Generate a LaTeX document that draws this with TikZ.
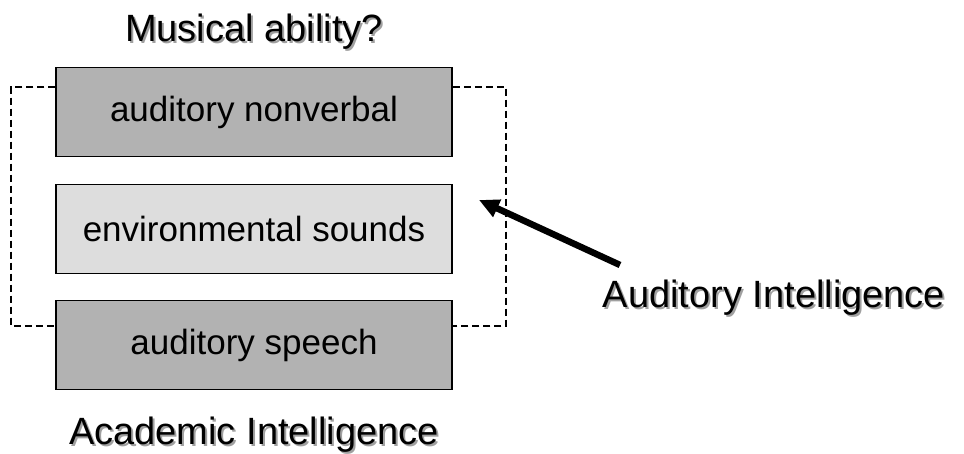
\documentclass[tikz,border=0pt]{standalone}
\usepackage{fontspec}
\setmainfont{Liberation Sans}
\usetikzlibrary{arrows.meta,calc}
\definecolor{boxdark}{HTML}{B2B2B2}
\definecolor{boxlight}{HTML}{DDDDDD}
\definecolor{shadowgray}{HTML}{A0A0A0}
\newcommand\shadowtext[1]{\makebox[0pt][l]{\hspace{2pt}\raisebox{-2pt}{\textcolor{shadowgray}{#1}}}#1}
\begin{document}
\begin{tikzpicture}[x=1pt,y=-1pt,
  box/.style={draw=black,line width=1.5pt,minimum width=396pt,minimum height=89pt,inner sep=0pt,
    font=\fontsize{35}{40}\selectfont},
  dark/.style={box,fill=boxdark},
  light/.style={box,fill=boxlight},
  label/.style={inner sep=0pt,font=\fontsize{38}{44}\selectfont,anchor=base},
  dashline/.style={line width=2.6pt,dash pattern=on 7pt off 4pt},
  bigarrow/.style={line width=6.5pt,-{Triangle[length=20pt,width=18pt]}}]
\useasboundingbox (0,0) rectangle (964,454);
% dashed bracket coordinates
\coordinate (dtop) at (0,87);
\coordinate (dbot) at (0,326);
\coordinate (dl) at (11,0);
\coordinate (dr) at (506,0);
% boxes
\node[dark]  (nv)  at (254,112) {auditory nonverbal};
\node[light] (env) at (254,229) {environmental sounds};
\node[dark]  (sp)  at (254,345) {auditory speech};
\draw[dashline] (nv.west |- dtop) -- (dl |- dtop) -- (dl |- dbot) -- (sp.west |- dbot);
\draw[dashline] (nv.east |- dtop) -- (dr |- dtop) -- (dr |- dbot) -- (sp.east |- dbot);
% labels with shadow
\node[label] (ma) at (254,42) {\shadowtext{Musical ability?}};
\node[label] (ac) at (254,444) {\shadowtext{Academic Intelligence}};
\node[label] (ai) at (774,308) {\shadowtext{Auditory Intelligence}};
% arrow
\coordinate (astart) at (620,265);
\coordinate (atip) at (479,200);
\draw[bigarrow] (astart) -- (atip);
\end{tikzpicture}
\end{document}
